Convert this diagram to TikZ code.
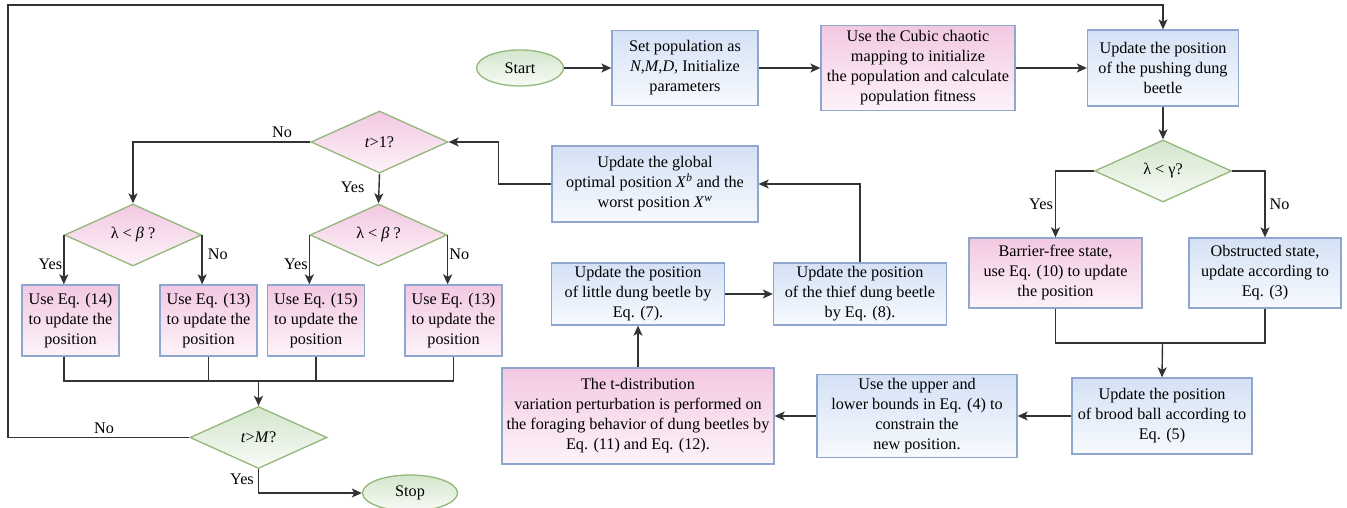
\documentclass[tikz,border=0pt]{standalone}
\usepackage{fontspec}
\setmainfont{Liberation Serif}
\usepackage{tikz}
\usetikzlibrary{positioning}
\usetikzlibrary{arrows.meta}
\usetikzlibrary{shapes.geometric}
\usepackage{xcolor}
\definecolor{bluetop}{HTML}{D4E1F5}
\definecolor{bluebot}{HTML}{F7FAFE}
\definecolor{blueline}{HTML}{8FA7CF}
\definecolor{pinktop}{HTML}{F2C8E2}
\definecolor{pinkbot}{HTML}{FDF3F9}
\definecolor{greentop}{HTML}{D3E6CC}
\definecolor{greenbot}{HTML}{F8FBF6}
\definecolor{greenline}{HTML}{93B67A}
\definecolor{linegray}{HTML}{333333}

\begin{document}
\begin{tikzpicture}[x=1pt, y=-1pt,
    font=\fontsize{16.2}{20}\selectfont,
    blueb/.style={draw=blueline, line width=1.3pt, top color=bluetop, bottom color=bluebot, align=center, inner sep=2pt},
    pinkb/.style={draw=blueline, line width=1.3pt, top color=pinktop, bottom color=pinkbot, align=center, inner sep=2pt},
    greend/.style={diamond, aspect=2.2, draw=greenline, line width=1.3pt, top color=greentop, bottom color=greenbot, minimum width=137pt, minimum height=62pt, inner sep=0pt},
    pinkd/.style={diamond, aspect=2.2, draw=greenline, line width=1.3pt, top color=pinktop, bottom color=pinkbot, minimum width=137pt, minimum height=62pt, inner sep=0pt},
    term/.style={ellipse, draw=greenline, line width=1.3pt, top color=greentop, bottom color=greenbot, minimum width=87pt, minimum height=36pt, inner sep=0pt},
    eqbox/.style={pinkb, minimum width=97pt, minimum height=71pt},
    line/.style={draw=linegray, line width=1.4pt},
    arrow/.style={line, -{Stealth[length=10pt, width=9pt, inset=2.5pt]}}]
    \useasboundingbox (0,0) rectangle (1347,508);

    % Top row
    \node (start) [term] at (520,68) {Start};
    \node (setpop) [blueb, right of=start, node distance=165pt, minimum width=146pt, minimum height=75pt] {Set population as\\\textit{N},\textit{M},\textit{D}, Initialize\\parameters};
    \node (cubic) [pinkb, right of=setpop, node distance=233pt, minimum width=194pt, minimum height=85pt] {Use the Cubic chaotic\\mapping to initialize\\the population and calculate\\population fitness};
    \node (push) [blueb, right of=cubic, node distance=245pt, minimum width=151pt, minimum height=76pt] {Update the position\\of the pushing dung\\beetle};

    % Rolling / brood ball part
    \node (gam) [greend, below of=push, node distance=103pt] {λ < γ?};
    \node (bar) [pinkb, minimum width=173pt, minimum height=70pt] at (1055.5,273) {Barrier-free state,\\use Eq. (10) to update\\the position};
    \node (obs) [blueb, right of=bar, node distance=209.5pt, minimum width=152pt, minimum height=70pt] {Obstructed state,\\update according to\\Eq. (3)};
    \node (brood) [blueb, minimum width=180pt, minimum height=76pt] at (1162,416) {Update the position\\of brood ball according to\\Eq. (5)};
    \node (bounds) [blueb, left of=brood, node distance=245pt, minimum width=200pt, minimum height=83pt] {Use the upper and\\lower bounds in Eq. (4) to\\constrain the\\new position.};
    \node (tdist) [pinkb, left of=bounds, node distance=279pt, minimum width=272pt, minimum height=96pt] {The t-distribution\\variation perturbation is performed on\\the foraging behavior of dung beetles by\\Eq. (11) and Eq. (12).};
    \node (little) [blueb, above of=tdist, node distance=122pt, minimum width=173pt, minimum height=62pt] {Update the position\\of little dung beetle by\\Eq. (7).};
    \node (thief) [blueb, right of=little, node distance=222pt, minimum width=173pt, minimum height=62pt] {Update the position\\of the thief dung beetle\\by Eq. (8).};
    \node (glob) [blueb, minimum width=206pt, minimum height=76pt] at (655,184) {Update the global\\optimal position \textit{X}\textsuperscript{\textit{b}} and the\\worst position \textit{X}\textsuperscript{\textit{w}}};

    % Stealing / left part
    \node (t1) [pinkd] at (379.5,142) {\textit{t}>1?};
    \node (lb1) [pinkd] at (133,235) {λ < \textit{β} ?};
    \node (lb2) [pinkd, right of=lb1, node distance=245.5pt] {λ < \textit{β} ?};
    \node (b14) [eqbox] at (70.5,320.5) {Use Eq. (14)\\to update the\\position};
    \node (b13a) [eqbox] at (208.5,320.5) {Use Eq. (13)\\to update the\\position};
    \node (b15) [eqbox] at (316,320.5) {Use Eq. (15)\\to update the\\position};
    \node (b13b) [eqbox] at (453.5,320.5) {Use Eq. (13)\\to update the\\position};
    \node (tM) [greend] at (258.5,437.5) {\textit{t}>\textit{M}?};
    \node (stop) [term, minimum width=95pt] at (410,493) {Stop};

    \coordinate (lt) at (8,5);
    \coordinate (j1) at (1162.5,343);
    \coordinate (j2) at (258.5,381);

    % Arrows
    \draw[arrow] (start) -- (setpop);
    \draw[arrow] (setpop) -- (cubic);
    \draw[arrow] (cubic) -- (push);
    \draw[arrow] (push) -- (gam);
    \draw[arrow] (gam.west) -| node[pos=.75, left, inner sep=2pt] {Yes} (bar.north);
    \draw[arrow] (gam.east) -| node[pos=.75, right, inner sep=4pt] {No} (obs.north);
    \draw[line] (bar.south) |- (j1) -| (obs.south);
    \draw[arrow] (j1) -- (brood.north);
    \draw[arrow] (brood) -- (bounds);
    \draw[arrow] (bounds) -- (tdist);
    \draw[arrow] (tdist) -- (little);
    \draw[arrow] (little) -- (thief);
    \draw[arrow] (thief.north) |- (glob.east);
    \draw[arrow] (glob.west) -- ++(-53,0) |- (t1.east);
    \draw[arrow] (t1.west) -| node[pos=.08, above] {No} (lb1.north);
    \draw[arrow] (t1.south) -- node[pos=.45, left, inner sep=14pt] {Yes} (lb2.north);
    \draw[arrow] (lb1.west) -- node[pos=.6, left, inner sep=1pt] {Yes} (lb1.west |- b14.north);
    \draw[arrow] (lb1.east) -- node[pos=.4, right, inner sep=5pt] {No} (lb1.east |- b13a.north);
    \draw[arrow] (lb2.west) -- node[pos=.6, left, inner sep=1pt] {Yes} (lb2.west |- b15.north);
    \draw[arrow] (lb2.east) -- node[pos=.4, right, inner sep=1pt] {No} (lb2.east |- b13b.north);
    \draw[line] (lb1.west |- b14.south) |- (j2) -| (b13b.south);
    \draw[line] (b13a.south) -- (b13a.south |- j2);
    \draw[line] (b15.south) -- (b15.south |- j2);
    \draw[arrow] (j2) -- (tM.north);
    \draw[arrow] (tM.south) |- node[pos=.22, left, inner sep=4pt] {Yes} (stop.west);
    \draw[arrow] (tM.west) -| node[pos=.235, above] {No} (lt) -| (push.north);
\end{tikzpicture}
\end{document}
